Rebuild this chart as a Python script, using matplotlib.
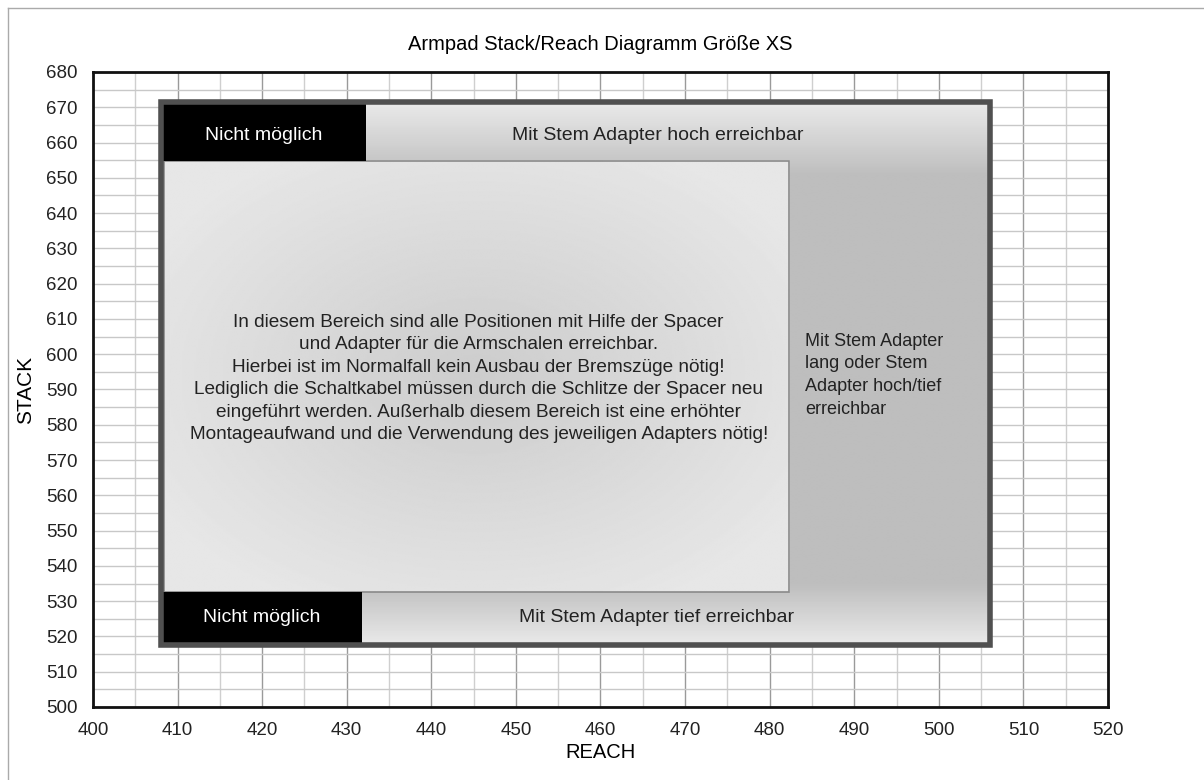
import matplotlib
matplotlib.use('Agg')
import matplotlib.pyplot as plt
import numpy as np
from matplotlib.patches import Rectangle
from matplotlib.lines import Line2D

plt.rcParams['font.family'] = ['Liberation Sans', 'DejaVu Sans']

reach_ticks = list(range(400, 521, 10))
stack_ticks = list(range(500, 681, 10))

# areas [x0, x1, y0, y1]
outer_area = [408, 506, 517.6, 671.4]
inner_area = [408.4, 482.3, 532.7, 654.9]
blocked_top = [408, 432.3, 654.9, 671.4]
blocked_bottom = [408, 431.8, 517.6, 532.7]

main_text = ("In diesem Bereich sind alle Positionen mit Hilfe der Spacer\n"
             "und Adapter für die Armschalen erreichbar.\n"
             "Hierbei ist im Normalfall kein Ausbau der Bremszüge nötig!\n"
             "Lediglich die Schaltkabel müssen durch die Schlitze der Spacer neu\n"
             "eingeführt werden. Außerhalb diesem Bereich ist eine erhöhter\n"
             "Montageaufwand und die Verwendung des jeweiligen Adapters nötig!")
side_text = "Mit Stem Adapter\nlang oder Stem\nAdapter hoch/tief\nerreichbar"

fig = plt.figure(figsize=(12.04, 7.80), dpi=100)
ax = fig.add_axes([0.0772, 0.0936, 0.8431, 0.8141])
ax.set_xlim(400, 520)
ax.set_ylim(500, 680)

ax.set_xticks(reach_ticks)
ax.set_yticks(stack_ticks)
ax.set_xticks(np.arange(405, 520, 10), minor=True)
ax.set_yticks(np.arange(505, 680, 10), minor=True)
ax.tick_params(which='both', length=0, labelsize=13.5, colors='#222222')
ax.tick_params(axis='x', pad=11)
ax.tick_params(axis='y', pad=11)
ax.grid(True, which='major', axis='x', color='#9a9a9a', lw=1)
ax.grid(True, which='minor', axis='x', color='#cfcfcf', lw=1)
ax.grid(True, which='both', axis='y', color='#c8c8c8', lw=1)
ax.set_axisbelow(True)
for s in ax.spines.values():
    s.set_linewidth(2)
    s.set_color('#111111')

# outer zone with vertical gradient (light at top/bottom, darker middle)
x0, x1, y0, y1 = outer_area
ys = np.linspace(y1, y0, 300)
v = np.full_like(ys, 0.745)
top_band = ys > inner_area[3] - 4
v[top_band] = 0.745 + (0.915 - 0.745) * (ys[top_band] - (inner_area[3] - 4)) / (y1 - inner_area[3] + 4)
bot_band = ys < inner_area[2] + 2
v[bot_band] = 0.745 + (0.915 - 0.745) * ((inner_area[2] + 2) - ys[bot_band]) / (inner_area[2] + 2 - y0)
ax.imshow(np.tile(v[:, None], (1, 2)), cmap='gray', vmin=0, vmax=1, aspect='auto',
          extent=[x0, x1, y0, y1], zorder=2, interpolation='bilinear')
ax.add_patch(Rectangle((x0, y0), x1 - x0, y1 - y0, fill=False, ec='#505050', lw=4, zorder=6))

# inner zone with radial gradient
ix0, ix1, iy0, iy1 = inner_area
gx, gy = np.meshgrid(np.linspace(-1, 1, 300), np.linspace(-1, 1, 300))
r = np.clip(np.sqrt(gx ** 2 + gy ** 2) / 1.2, 0, 1)
img = 0.8 + (0.905 - 0.8) * r
ax.imshow(img, cmap='gray', vmin=0, vmax=1, aspect='auto',
          extent=[ix0, ix1, iy0, iy1], zorder=3, interpolation='bilinear')
ax.add_patch(Rectangle((ix0, iy0), ix1 - ix0, iy1 - iy0, fill=False, ec='#8a8a8a', lw=1.2, zorder=4))

for bx0, bx1, by0, by1 in (blocked_top, blocked_bottom):
    ax.add_patch(Rectangle((bx0, by0), bx1 - bx0, by1 - by0, fc='black', ec='none', zorder=5))

ax.text((blocked_top[0] + blocked_top[1]) / 2, 662, 'Nicht möglich', color='white',
        ha='center', va='center', fontsize=14, zorder=7)
ax.text((blocked_bottom[0] + blocked_bottom[1]) / 2, 525.3, 'Nicht möglich', color='white',
        ha='center', va='center', fontsize=14, zorder=7)
ax.text(466.8, 662, 'Mit Stem Adapter hoch erreichbar', color='#222222',
        ha='center', va='center', fontsize=14, zorder=7)
ax.text(466.6, 525.3, 'Mit Stem Adapter tief erreichbar', color='#222222',
        ha='center', va='center', fontsize=14, zorder=7)
ax.text(445.6, 593.1, main_text, color='#222222', ha='center', va='center',
        fontsize=13.7, linespacing=1.42, zorder=7)
ax.text(484.2, 594, side_text, color='#222222', ha='left', va='center',
        fontsize=13, linespacing=1.45, zorder=7)

ax.set_xlabel('REACH', fontsize=14.5, labelpad=3)
ax.set_ylabel('STACK', fontsize=15, labelpad=8)
ax.set_title('Armpad Stack/Reach Diagramm Größe XS', fontsize=14.5, pad=16)

# thin frame around the chart area
fig.add_artist(Line2D([8 / 1204, 8 / 1204], [0, 1 - 8 / 780], transform=fig.transFigure, color='#aaaaaa', lw=1))
fig.add_artist(Line2D([8 / 1204, 1], [1 - 8 / 780, 1 - 8 / 780], transform=fig.transFigure, color='#aaaaaa', lw=1))

fig.savefig('out.png', dpi=100)
